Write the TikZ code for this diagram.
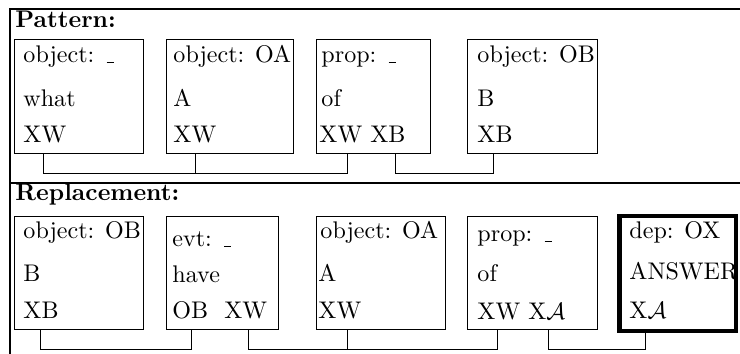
\documentclass[tikz,border=0pt]{standalone}
\usetikzlibrary{fit,calc}
% short underscore rule sitting on the baseline
\newcommand\usc{\leavevmode\kern.06em\vbox{\hrule width.3em height .4pt}}
\begin{document}
\begin{tikzpicture}[x=0.4237pt, y=-0.4237pt,
  frame/.style={line width=0.5pt},
  box/.style={draw, line width=0.4pt, inner sep=0pt},
  thickbox/.style={draw, line width=1.9pt, inner sep=0pt},
  wire/.style={line width=0.4pt},
  lbl/.style={anchor=base west, inner sep=0pt, font=\fontsize{10.2}{12}\selectfont},
  head/.style={anchor=base west, inner sep=0pt, font=\fontsize{10.2}{12}\selectfont\bfseries}]
\useasboundingbox (0,0) rectangle (740,354);

% table rules
\coordinate (tl) at (10,9);
\coordinate (tr) at (740,9);
\coordinate (ml) at (10,183);
\coordinate (mr) at (740,183);
\coordinate (bl) at (10,354);
\draw[frame] (tr) -- (tl) -- (bl);
\draw[frame] (ml) -- (mr);

% ---------- pattern ----------
\node[head] (phead) at (15,28) {Pattern:};

\node[box, fit={(14,39) (143,153)}] (p1) {};
\node[box, fit={(166,39) (293,153)}] (p2) {};
\node[box, fit={(316,39) (430,153)}] (p3) {};
\node[box, fit={(467,39) (597,153)}] (p4) {};

\node[lbl] (p1a) at (23,63) {object: \usc};
\node[lbl] (p1b) at (23,107) {what};
\node[lbl] (p1c) at (23,143) {XW};

\node[lbl] (p2a) at (173,63) {object: OA};
\node[lbl] (p2b) at (173,107) {A};
\node[lbl] (p2c) at (173,143) {XW};

\node[lbl] (p3a) at (321,63) {prop: \usc};
\node[lbl] (p3b) at (321,107) {of};
\node[lbl] (p3c) at (319,143) {XW XB};

\node[lbl] (p4a) at (477,63) {object: OB};
\node[lbl] (p4b) at (477,107) {B};
\node[lbl] (p4c) at (477,143) {XB};

\draw[wire] ($(p1.south west)+(30,0)$) -- ++(0,20) -| ($(p3.south west)+(32,0)$);
\draw[wire] ($(p2.south west)+(30,0)$) -- ++(0,20);
\draw[wire] ($(p3.south west)+(80,0)$) -- ++(0,20) -| ($(p4.south west)+(27,0)$);

% ---------- replacement ----------
\node[head] (rhead) at (15,201) {Replacement:};

\node[box, fit={(14,216) (143,329)}] (r1) {};
\node[box, fit={(166,216) (278,329)}] (r2) {};
\node[box, fit={(316,216) (445,329)}] (r3) {};
\node[box, fit={(467,216) (597,329)}] (r4) {};
\node[thickbox, fit={(619.5,216) (736,331)}] (r5) {};

\node[lbl] (r1a) at (23,239) {object: OB};
\node[lbl] (r1b) at (23,282) {B};
\node[lbl] (r1c) at (23,318) {XB};

\node[lbl] (r2a) at (172,247) {evt: \usc};
\node[lbl] (r2b) at (172,283) {have};
\node[lbl] (r2c) at (172,318) {OB\ \ XW};

\node[lbl] (r3a) at (320,239) {object: OA};
\node[lbl] (r3b) at (318,282) {A};
\node[lbl] (r3c) at (318,318) {XW};

\node[lbl] (r4a) at (477,242) {prop: \usc};
\node[lbl] (r4b) at (477,282) {of};
\node[lbl] (r4c) at (477,319) {XW X$\mathcal{A}$};

\node[lbl] (r5a) at (629,238) {dep: OX};
\node[lbl] (r5b) at (629,279) {ANSWER};
\node[lbl] (r5c) at (629,318) {X$\mathcal{A}$};

\draw[wire] ($(r1.south west)+(27,0)$) -- ++(0,20) -| ($(r2.south west)+(26,0)$);
\draw[wire] ($(r2.south west)+(83,0)$) -- ++(0,20) -| ($(r4.south west)+(31,0)$);
\draw[wire] ($(r3.south west)+(32,0)$) -- ++(0,20);
\draw[wire] ($(r4.south west)+(82,0)$) -- ++(0,20) -| ($(r5.south west)+(28.5,0)$);
\end{tikzpicture}
\end{document}
